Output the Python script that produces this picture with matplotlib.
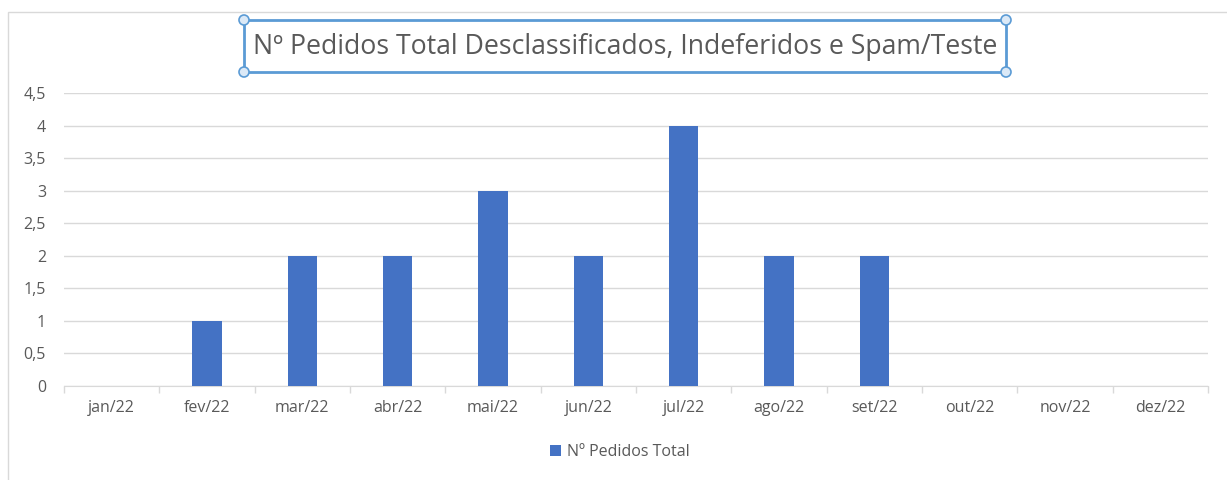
import matplotlib.pyplot as plt
import numpy as np
from matplotlib.patches import Rectangle, Ellipse

months = ["jan/22", "fev/22", "mar/22", "abr/22", "mai/22", "jun/22",
          "jul/22", "ago/22", "set/22", "out/22", "nov/22", "dez/22"]
pedidos = [0, 1, 2, 2, 3, 2, 4, 2, 2, 0, 0, 0]
y_ticks = [0, 0.5, 1, 1.5, 2, 2.5, 3, 3.5, 4, 4.5]
y_labels = ["0", "0,5", "1", "1,5", "2", "2,5", "3", "3,5", "4", "4,5"]

plt.rcParams["font.family"] = ["Open Sans", "DejaVu Sans"]
W, H = 1227, 480
fig = plt.figure(figsize=(W / 100, H / 100), dpi=100)
ax = fig.add_axes([64 / W, 1 - 386 / H, (1208 - 64) / W, (386 - 93) / H])

# chart area border
fig.patches.append(Rectangle((8 / W, -0.1), 1.2, 1 - 12 / H + 0.1, transform=fig.transFigure,
                             fill=False, edgecolor="#d9d9d9", lw=1))

x = np.arange(len(months))
ax.bar(x, pedidos, width=0.31, color="#4472c4", label="Nº Pedidos Total", zorder=3)
ax.set_xlim(-0.5, len(months) - 0.5)
ax.set_ylim(0, 4.5)
ax.set_yticks(y_ticks)
ax.set_yticklabels(y_labels)
ax.set_xticks(x)
ax.set_xticklabels(months)
ax.set_xticks(np.arange(-0.5, len(months)), minor=True)
ax.tick_params(axis="y", length=0, pad=13, labelsize=11.5, labelcolor="#595959")
ax.tick_params(axis="x", which="major", length=0, pad=10, labelsize=11.5, labelcolor="#595959")
ax.tick_params(axis="x", which="minor", length=5, color="#d9d9d9", width=1)
ax.grid(axis="y", color="#d9d9d9", lw=1, zorder=0)
for s in ["top", "right", "left"]:
    ax.spines[s].set_visible(False)
ax.spines["bottom"].set_color("#d9d9d9")

fig.text(625 / W, 1 - 47 / H, "Nº Pedidos Total Desclassificados, Indeferidos e Spam/Teste",
         ha="center", va="center", fontsize=19.2, color="#595959")

# selected title box with handles
x0, x1, y0, y1 = 244 / W, 1006 / W, 1 - 72 / H, 1 - 20 / H
fig.patches.append(Rectangle((x0, y0), x1 - x0, y1 - y0, transform=fig.transFigure,
                             fill=False, edgecolor="#5b9bd5", lw=2))
for cx, cy in [(x0, y0), (x0, y1), (x1, y0), (x1, y1)]:
    fig.patches.append(Ellipse((cx, cy), 10 / W, 10 / H, transform=fig.transFigure,
                               facecolor="#dbe9f7", edgecolor="#5b9bd5", lw=1.2))

fig.legend(loc="center", bbox_to_anchor=(620 / W, 1 - 452 / H), frameon=False,
           fontsize=11.5, handlelength=0.7, handleheight=0.7, handletextpad=0.4,
           labelcolor="#595959")

fig.savefig("out.png", dpi=100)
